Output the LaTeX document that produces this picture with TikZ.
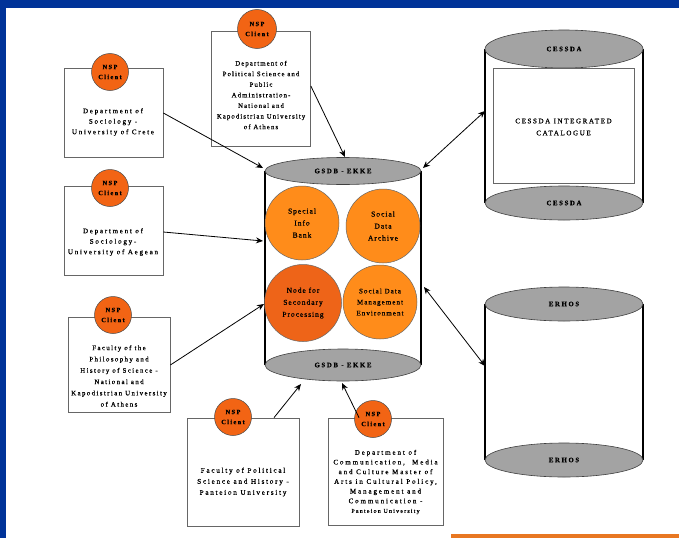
\documentclass[tikz,border=0pt]{standalone}
\usepackage{fontspec}
\setmainfont{Liberation Serif}
\newcommand{\lsp}[1]{\addfontfeature{LetterSpace=#1,FakeBold=0.9}}
\usetikzlibrary{arrows.meta,shapes.geometric}
\definecolor{frameblue}{HTML}{003399}
\definecolor{barorange}{HTML}{E87722}
\definecolor{nsporange}{HTML}{F26414}
\definecolor{lightorange}{HTML}{FF8C1A}
\definecolor{darkorange}{HTML}{EE6418}
\definecolor{capgray}{HTML}{A3A3A3}
\tikzset{
  clientbox/.style={draw=black!60, line width=0.7pt, fill=white, rectangle, inner sep=0pt},
  nsp/.style={circle, draw=black!70, line width=0.5pt, fill=nsporange, minimum size=37pt, inner sep=0pt, align=center, font=\fontsize{6.5}{10}\selectfont\bfseries\lsp{20}},
  boxtext/.style={align=center, inner sep=0pt, font=\fontsize{7}{10.5}\selectfont\lsp{25}},
  capell/.style={ellipse, draw=black!75, line width=0.6pt, fill=capgray, inner sep=0pt, font=\fontsize{6.8}{8}\selectfont\bfseries\lsp{24}},
  cylside/.style={line width=1.8pt, black},
  service/.style={circle, draw=black!60, line width=0.5pt, fill=lightorange, minimum size=74pt, inner sep=0pt, align=center, font=\fontsize{7.5}{12}\selectfont\lsp{13}},
  link/.style={line width=0.8pt, -{Stealth[length=7pt,width=6pt]}},
  dlink/.style={line width=0.8pt, {Stealth[length=7pt,width=6pt]}-{Stealth[length=7pt,width=6pt]}}
}
\begin{document}
\begin{tikzpicture}[x=1pt,y=-1pt]
\useasboundingbox (0,0) rectangle (679,538);
\fill[white] (0,0) rectangle (679,538);
\fill[frameblue] (0,0) rectangle (679,8);
\fill[frameblue] (0,0) rectangle (6,538);
\fill[barorange] (451,534) rectangle (679,538);

% ---- central cylinder GSDB - EKKE
\draw[cylside] (265,171) -- (265,365);
\draw[cylside] (421,171) -- (421,365);
\node[capell, minimum width=156pt, minimum height=27pt] (gtop) at (343,171) {GSDB - EKKE};
\node[capell, minimum width=156pt, minimum height=32pt] (gbot) at (343,365) {GSDB - EKKE};
\node[service] (sib) at (302,223) {Special\\Info\\Bank};
\node[service] (sda) at (383,226) {Social\\Data\\Archive};
\node[service, fill=darkorange, minimum size=77pt] (nsp2) at (303,303) {Node for\\Secondary\\Processing};
\node[service, font=\fontsize{7}{11}\selectfont\lsp{15}] (sdme) at (380,302) {Social Data\\Management\\Environment};

% ---- CESSDA cylinder
\draw[cylside] (485,49) -- (485,203);
\draw[cylside] (643,49) -- (643,203);
\node[capell, minimum width=158pt, minimum height=38pt] (ctop) at (564,49) {CESSDA};
\node[capell, minimum width=158pt, minimum height=34pt] (cbot) at (564,203) {CESSDA};
\node[draw=black!60, line width=0.6pt, fill=white, minimum width=141pt, minimum height=115pt, inner sep=0pt] (cat) at (563.5,125.5) {};
\node[align=center, inner sep=0pt, font=\fontsize{7}{12}\selectfont\lsp{23}] (cat-t) at (563.5,127) {CESSDA INTEGRATED\\CATALOGUE};

% ---- ERHOS cylinder
\draw[cylside] (485,304) -- (485,460);
\draw[cylside] (643,304) -- (643,460);
\node[capell, minimum width=158pt, minimum height=34pt] (etop) at (564,304) {ERHOS};
\node[capell, minimum width=158pt, minimum height=34pt] (ebot) at (564,460) {ERHOS};

% ---- client boxes
\node[clientbox, minimum width=99pt, minimum height=89pt] (crete) at (113.5,112.5) {};
\node[boxtext] (crete-t) at (113,122) {Department of\\Sociology -\\University of Crete};
\node[nsp] (crete-c) at (110,72) {NSP\\Client};

\node[clientbox, minimum width=99pt, minimum height=115pt] (polsci) at (261,88.5) {};
\node[boxtext, font=\fontsize{6.8}{10.6}\selectfont\lsp{16}] (polsci-t) at (261,95) {Department of\\Political Science and\\Public\\Administration-\\National and\\Kapodistrian University\\of Athens};
\node[nsp, minimum size=39pt] (polsci-c) at (257,29) {NSP\\Client};

\node[clientbox, minimum width=99pt, minimum height=89pt] (aegean) at (113.5,230.5) {};
\node[boxtext] (aegean-t) at (113,242) {Department of\\Sociology-\\University of Aegean};
\node[nsp] (aegean-c) at (110,188) {NSP\\Client};

\node[clientbox, minimum width=102pt, minimum height=95pt] (philo) at (119,364.5) {};
\node[boxtext, font=\fontsize{6.8}{11.3}\selectfont\lsp{21}] (philo-t) at (119,376) {Faculty of the\\Philosophy and\\History of Science -\\National and\\Kapodistrian University\\of Athens};
\node[nsp] (philo-c) at (113,315) {NSP\\Client};

\node[clientbox, minimum width=112pt, minimum height=108pt] (panteion) at (243,472) {};
\node[boxtext, font=\fontsize{7.2}{11}\selectfont\lsp{24}] (panteion-t) at (243,482) {Faculty of Political\\Science and History -\\Panteion University};
\node[nsp] (panteion-c) at (233,417) {NSP\\Client};

\node[clientbox, minimum width=115pt, minimum height=107pt] (comm) at (385.5,471.5) {};
\node[boxtext, font=\fontsize{7}{9.7}\selectfont\lsp{27}] (comm-t) at (385.5,482) {Department of\\Communication,\ \ Media\\and Culture Master of\\Arts in Cultural Policy,\\Management and\\Communication -\\{\fontsize{6}{9.7}\selectfont\lsp{20}Panteion University}};
\node[nsp] (comm-c) at (373,419) {NSP\\Client};

% ---- connector end points on cylinders
\coordinate (g1) at (263,168);
\coordinate (g2) at (345,157);
\coordinate (g3) at (263,241);
\coordinate (g4) at (264,304);
\coordinate (g5) at (301,384);
\coordinate (g6) at (342,383);
\coordinate (g7) at (423,168);
\coordinate (g8) at (424,287);
\coordinate (c1) at (485,111);
\coordinate (e1) at (485,366);

% ---- connectors
\draw[link] (crete.east |- 0,113) -- (g1);
\draw[link] (polsci.east |- 0,86) -- (g2);
\draw[link] (aegean.east |- 0,232) -- (g3);
\draw[link] (philo.east |- 0,365) -- (g4);
\draw[link] (panteion.north -| 274,0) -- (g5);
\draw[link] (comm.north -| 359,0) -- (g6);
\draw[dlink] (g7) -- (c1);
\draw[dlink] (g8) -- (e1);
\end{tikzpicture}
\end{document}
